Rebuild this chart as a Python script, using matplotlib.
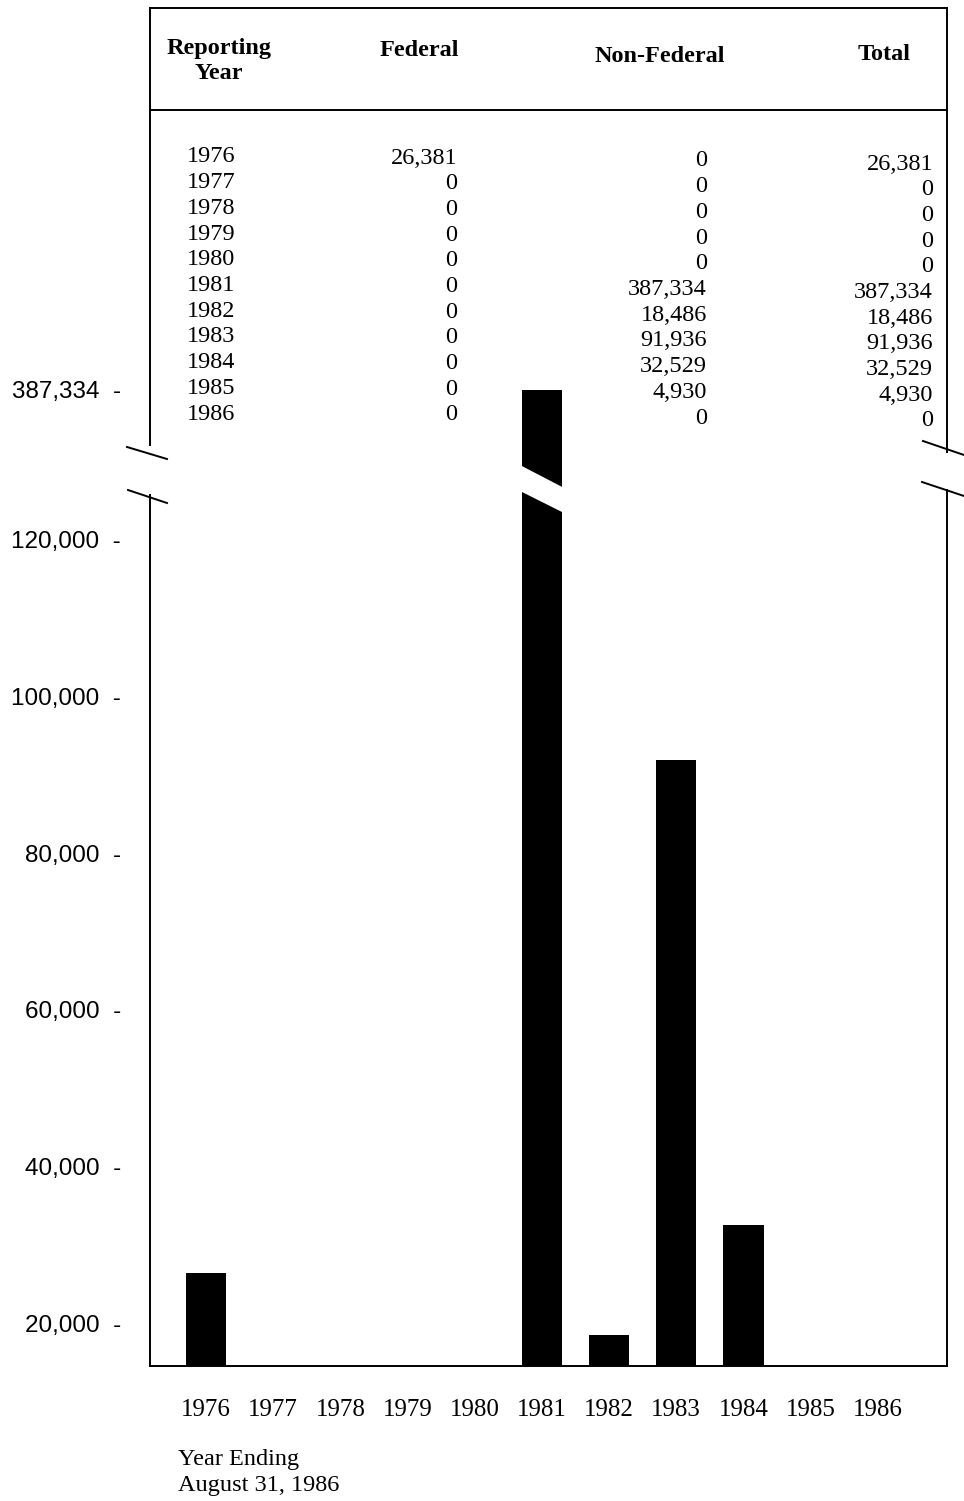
import matplotlib
matplotlib.use("Agg")
import matplotlib.pyplot as plt
import numpy as np
from matplotlib.lines import Line2D
from matplotlib.patches import Polygon

# data
years = [1976, 1977, 1978, 1979, 1980, 1981, 1982, 1983, 1984, 1985, 1986]
federal = [26381, 0, 0, 0, 0, 0, 0, 0, 0, 0, 0]
non_federal = [0, 0, 0, 0, 0, 387334, 18486, 91936, 32529, 4930, 0]
total = [26381, 0, 0, 0, 0, 387334, 18486, 91936, 32529, 4930, 0]
y_ticks = [20000, 40000, 60000, 80000, 100000, 120000, 387334]
header = ["Reporting\nYear", "Federal", "Non-Federal", "Total"]

W, H = 964, 1501  # figure size in px, used for the hand-drawn frame bits


def fx(x):
    return x / W


def fy(y):
    return 1 - y / H


# broken y axis: everything between T1 and T1+OFF is squeezed out
T1 = 127660
OFF = 248180


def fwd(v):
    v = np.asarray(v, dtype=float)
    return np.where(v <= T1, v, np.where(v >= T1 + OFF, v - OFF, T1))


def inv(u):
    u = np.asarray(u, dtype=float)
    return np.where(u <= T1, u, u + OFF)


serif = "Liberation Serif"
sans = "Liberation Sans"

fig = plt.figure(figsize=(W / 100, H / 100), dpi=100)
ax = fig.add_axes([fx(150), fy(1366), fx(947) - fx(150), fy(8) - fy(1366)])

x = np.arange(len(years))
ax.bar(x, total, width=0.6, color="black", zorder=2)

ax.set_yscale("function", functions=(fwd, inv))
ax.set_ylim(14509, 436119)
ax.set_xlim(-0.833, 11.03)

ax.set_yticks(y_ticks, labels=[f"{v:,}  -" for v in y_ticks])
ax.set_xticks(x, labels=[str(y) for y in years])
ax.tick_params(axis="y", length=0, pad=21, labelsize=17.5)
ax.tick_params(axis="x", length=0, pad=24, labelsize=18)
for lab in ax.get_yticklabels():
    lab.set_family(sans)
for lab in ax.get_xticklabels():
    lab.set_family(serif)

ax.spines["left"].set_visible(False)
ax.spines["right"].set_visible(False)
ax.spines["top"].set_linewidth(1.4)
ax.spines["bottom"].set_linewidth(1.4)

# frame with breaks
segs = [
    [(150, 8), (150, 445)], [(150, 495), (150, 1366)],
    [(947, 8), (947, 452)], [(947, 490), (947, 1366)],
    [(150, 110), (947, 110)],
    [(127, 447), (167, 459)], [(128, 490), (167, 503)],
    [(923, 441), (964, 455)], [(922, 482), (964, 496)],
]
for (x0, y0), (x1, y1) in segs:
    fig.add_artist(Line2D([fx(x0), fx(x1)], [fy(y0), fy(y1)], color="black", lw=1.4))

# white slant cutting the tall 1981 bar
gap = [(518, 464), (568, 490), (568, 515), (518, 490)]
fig.add_artist(Polygon([(fx(a), fy(b)) for a, b in gap], closed=True,
                       facecolor="white", edgecolor="none", zorder=5))

# header row
hsize = 17.5
fig.text(fx(219), fy(61), header[0], family=serif, weight="bold", size=hsize,
         ha="center", va="center", linespacing=1.2)
fig.text(fx(419), fy(50), header[1], family=serif, weight="bold", size=hsize, ha="center", va="center")
fig.text(fx(660), fy(57), header[2], family=serif, weight="bold", size=hsize, ha="center", va="center")
fig.text(fx(884), fy(55), header[3], family=serif, weight="bold", size=hsize, ha="center", va="center")

# table body
for i, yr in enumerate(years):
    yy = 157 + 25.7 * i
    fig.text(fx(187), fy(yy), str(yr), family=serif, size=17.5, ha="left", va="center")
    fig.text(fx(457), fy(yy + 1), f"{federal[i]:,}", family=serif, size=17.5, ha="right", va="center")
    fig.text(fx(707), fy(yy + 4), f"{non_federal[i]:,}", family=serif, size=17.5, ha="right", va="center")
    fig.text(fx(933), fy(yy + 7), f"{total[i]:,}", family=serif, size=17.5, ha="right", va="center")

fig.text(fx(178), fy(1449), "Year Ending\nAugust 31, 1986", family=serif, size=17.5,
         ha="left", va="top", linespacing=1.3)

fig.savefig("out.png", dpi=100)
